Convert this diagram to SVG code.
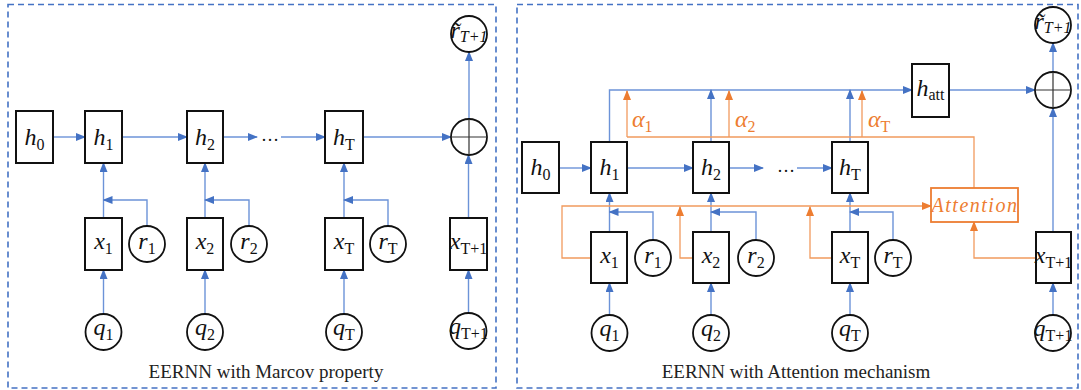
<svg xmlns="http://www.w3.org/2000/svg" width="1081" height="390" viewBox="0 0 1081 390">
<defs>
<marker id="ab" markerUnits="userSpaceOnUse" markerWidth="10" markerHeight="8" refX="9" refY="4" orient="auto"><path d="M0,0 L10,4 L0,8 Z" fill="#4472C4"/></marker>
<marker id="ao" markerUnits="userSpaceOnUse" markerWidth="10" markerHeight="8" refX="9" refY="4" orient="auto"><path d="M0,0 L10,4 L0,8 Z" fill="#ED7D31"/></marker>
<style>
.frame{fill:none;stroke:#4472C4;stroke-width:1.6;stroke-dasharray:6,4}
.box{fill:#fff;stroke:#111;stroke-width:2}
.cir{fill:#fff;stroke:#111;stroke-width:1.8}
.cross{stroke:#333;stroke-width:1.2}
.ba{fill:none;stroke:#6C93D8;stroke-width:1.4;marker-end:url(#ab)}
.ol{fill:none;stroke:#F19A5E;stroke-width:1.3}
.oa{fill:none;stroke:#F19A5E;stroke-width:1.3;marker-end:url(#ao)}
.m{font-family:"Liberation Serif","DejaVu Serif",serif;font-size:24px;font-style:italic;fill:#111;text-anchor:middle}
.s{font-size:16px;font-style:normal}
.si{font-size:16px;font-style:italic}
.al{font-family:"Liberation Serif","DejaVu Serif",serif;font-size:24px;font-style:italic;fill:#ED7D31}
.att{font-family:"Liberation Serif","DejaVu Serif",serif;font-size:20px;font-style:italic;fill:#ED7D31;text-anchor:middle;letter-spacing:1.5px}
.cap{font-family:"Liberation Serif","Times New Roman",serif;font-size:19px;fill:#222;text-anchor:middle}
.dots{font-family:"Liberation Serif",serif;font-size:18px;fill:#111;text-anchor:middle}
</style>
</defs>

<rect class="frame" x="8" y="4.5" width="488" height="383.5"/>
<rect class="frame" x="517" y="4.5" width="561" height="383.5"/>

<g id="connectors">
<path class="ba" d="M53,137 H85"/>
<path class="ba" d="M122,137 H187"/>
<path class="ba" d="M223,137 H257"/>
<path class="ba" d="M281,137 H325"/>
<path class="ba" d="M363,137 H451"/>
<path class="ba" d="M469,119 V52"/>
<path class="ba" d="M468.5,218 V155"/>
<path class="ba" d="M103.5,218 V163"/>
<path class="ba" d="M205,218 V163"/>
<path class="ba" d="M344,218 V163"/>
<path class="ba" d="M147,226 V200 H103.5"/>
<path class="ba" d="M249,226 V200 H205"/>
<path class="ba" d="M388,226 V200 H344"/>
<path class="ba" d="M103.5,314 V270"/>
<path class="ba" d="M205,314 V270"/>
<path class="ba" d="M344,314 V270"/>
<path class="ba" d="M468.5,313 V270"/>
<path class="ba" d="M559,168 H591"/>
<path class="ba" d="M627,168 H693"/>
<path class="ba" d="M729,168 H763"/>
<path class="ba" d="M797,168 H832"/>
<path class="ba" d="M609.5,142 V90 H912"/>
<path class="ba" d="M711,142 V90"/>
<path class="ba" d="M850,142 V90"/>
<path class="ba" d="M949,90 H1035"/>
<path class="ba" d="M1053,72 V43"/>
<path class="ba" d="M1053,232 V108"/>
<path class="ba" d="M609.5,232 V193"/>
<path class="ba" d="M711,232 V193"/>
<path class="ba" d="M850,232 V193"/>
<path class="ba" d="M653,240 V212 H609.5"/>
<path class="ba" d="M756,240 V212 H711"/>
<path class="ba" d="M893,240 V212 H850"/>
<path class="ba" d="M609.5,315 V283"/>
<path class="ba" d="M711,315 V283"/>
<path class="ba" d="M850,315 V283"/>
<path class="ba" d="M1053,315 V283"/>
<path class="ol" d="M627,137 H974 V188"/>
<path class="oa" d="M627,137 V91"/>
<path class="oa" d="M729,137 V91"/>
<path class="oa" d="M862,137 V91"/>
<path class="oa" d="M591,258 H562 V206 H931"/>
<path class="oa" d="M693,258 H680 V207"/>
<path class="oa" d="M832,258 H810 V207"/>
<path class="oa" d="M1036,258 H974 V222"/>
</g>

<text class="dots" x="270" y="141">…</text>
<text class="dots" x="786" y="172">…</text>

<g id="L_h0"><rect class="box" x="16" y="111" width="37" height="52"/><text class="m" x="34.5" y="145">h<tspan class="s" dy="5">0</tspan></text></g>
<g id="L_h1"><rect class="box" x="85" y="111" width="37" height="52"/><text class="m" x="103.5" y="145">h<tspan class="s" dy="5">1</tspan></text></g>
<g id="L_h2"><rect class="box" x="187" y="111" width="36" height="52"/><text class="m" x="205" y="145">h<tspan class="s" dy="5">2</tspan></text></g>
<g id="L_hT"><rect class="box" x="325" y="111" width="38" height="52"/><text class="m" x="344" y="145">h<tspan class="s" dy="5">T</tspan></text></g>
<g id="L_oplus"><circle class="cir" cx="469" cy="137" r="18"/><path class="cross" d="M451,137 H487 M469,119 V155"/></g>
<g id="L_rpred"><circle class="cir" cx="469" cy="34" r="18"/><text class="m" x="469" y="38">r̃<tspan class="si" dy="4">T+1</tspan></text></g>
<g id="L_x1"><rect class="box" x="85" y="218" width="37" height="52"/><text class="m" x="103.5" y="249">x<tspan class="s" dy="5">1</tspan></text></g>
<g id="L_x2"><rect class="box" x="187" y="218" width="36" height="52"/><text class="m" x="205" y="249">x<tspan class="s" dy="5">2</tspan></text></g>
<g id="L_xT"><rect class="box" x="325" y="218" width="38" height="52"/><text class="m" x="344" y="249">x<tspan class="s" dy="5">T</tspan></text></g>
<g id="L_xT1"><rect class="box" x="450" y="218" width="37" height="52"/><text class="m" x="468.5" y="249">x<tspan class="s" dy="5">T+1</tspan></text></g>
<g id="L_r1"><circle class="cir" cx="147" cy="244" r="18"/><text class="m" x="147" y="249">r<tspan class="s" dy="5">1</tspan></text></g>
<g id="L_r2"><circle class="cir" cx="249" cy="244" r="18"/><text class="m" x="249" y="249">r<tspan class="s" dy="5">2</tspan></text></g>
<g id="L_rT"><circle class="cir" cx="388" cy="244" r="18"/><text class="m" x="388" y="249">r<tspan class="s" dy="5">T</tspan></text></g>
<g id="L_q1"><circle class="cir" cx="103.5" cy="332" r="18"/><text class="m" x="103.5" y="335">q<tspan class="s" dy="5">1</tspan></text></g>
<g id="L_q2"><circle class="cir" cx="205" cy="332" r="18"/><text class="m" x="205" y="335">q<tspan class="s" dy="5">2</tspan></text></g>
<g id="L_qT"><circle class="cir" cx="344" cy="332" r="18"/><text class="m" x="344" y="335">q<tspan class="s" dy="5">T</tspan></text></g>
<g id="L_qT1"><circle class="cir" cx="468.5" cy="331" r="18"/><text class="m" x="468.5" y="334">q<tspan class="s" dy="5">T+1</tspan></text></g>
<text class="cap" x="266" y="378">EERNN with Marcov property</text>

<g id="R_h0"><rect class="box" x="522" y="142" width="37" height="51"/><text class="m" x="540.5" y="175">h<tspan class="s" dy="5">0</tspan></text></g>
<g id="R_h1"><rect class="box" x="591" y="142" width="36" height="51"/><text class="m" x="609.5" y="175">h<tspan class="s" dy="5">1</tspan></text></g>
<g id="R_h2"><rect class="box" x="693" y="142" width="36" height="51"/><text class="m" x="711" y="175">h<tspan class="s" dy="5">2</tspan></text></g>
<g id="R_hT"><rect class="box" x="832" y="142" width="36" height="51"/><text class="m" x="850" y="175">h<tspan class="s" dy="5">T</tspan></text></g>
<g id="R_hatt"><rect class="box" x="912" y="64" width="37" height="53"/><text class="m" x="930.5" y="96">h<tspan class="s" dy="4">att</tspan></text></g>
<g id="R_oplus"><circle class="cir" cx="1053" cy="90" r="18"/><path class="cross" d="M1035,90 H1071 M1053,72 V108"/></g>
<g id="R_rpred"><circle class="cir" cx="1053" cy="25" r="18"/><text class="m" x="1053" y="29">r̃<tspan class="si" dy="4">T+1</tspan></text></g>
<g id="R_attention"><rect x="931" y="188" width="87" height="34" fill="#fff" stroke="#ED7D31" stroke-width="1.8"/><text class="att" x="975" y="212">Attention</text></g>
<g id="R_x1"><rect class="box" x="591" y="232" width="36" height="51"/><text class="m" x="609.5" y="263">x<tspan class="s" dy="5">1</tspan></text></g>
<g id="R_x2"><rect class="box" x="693" y="232" width="36" height="51"/><text class="m" x="711" y="263">x<tspan class="s" dy="5">2</tspan></text></g>
<g id="R_xT"><rect class="box" x="832" y="232" width="36" height="51"/><text class="m" x="850" y="263">x<tspan class="s" dy="5">T</tspan></text></g>
<g id="R_xT1"><rect class="box" x="1036" y="232" width="35" height="51"/><text class="m" x="1053.5" y="263">x<tspan class="s" dy="5">T+1</tspan></text></g>
<g id="R_r1"><circle class="cir" cx="653" cy="258" r="18"/><text class="m" x="653" y="263">r<tspan class="s" dy="5">1</tspan></text></g>
<g id="R_r2"><circle class="cir" cx="756" cy="258" r="18"/><text class="m" x="756" y="263">r<tspan class="s" dy="5">2</tspan></text></g>
<g id="R_rT"><circle class="cir" cx="893" cy="258" r="18"/><text class="m" x="893" y="263">r<tspan class="s" dy="5">T</tspan></text></g>
<g id="R_q1"><circle class="cir" cx="609.5" cy="333" r="18"/><text class="m" x="609.5" y="336">q<tspan class="s" dy="5">1</tspan></text></g>
<g id="R_q2"><circle class="cir" cx="711" cy="333" r="18"/><text class="m" x="711" y="336">q<tspan class="s" dy="5">2</tspan></text></g>
<g id="R_qT"><circle class="cir" cx="850" cy="333" r="18"/><text class="m" x="850" y="336">q<tspan class="s" dy="5">T</tspan></text></g>
<g id="R_qT1"><circle class="cir" cx="1053" cy="333" r="18"/><text class="m" x="1053" y="336">q<tspan class="s" dy="5">T+1</tspan></text></g>
<g id="R_alpha">
<text class="al" x="632" y="127">α<tspan class="s" dy="5">1</tspan></text>
<text class="al" x="735" y="127">α<tspan class="s" dy="5">2</tspan></text>
<text class="al" x="868" y="127">α<tspan class="s" dy="5">T</tspan></text>
</g>
<text class="cap" x="796" y="378">EERNN with Attention mechanism</text>
</svg>
